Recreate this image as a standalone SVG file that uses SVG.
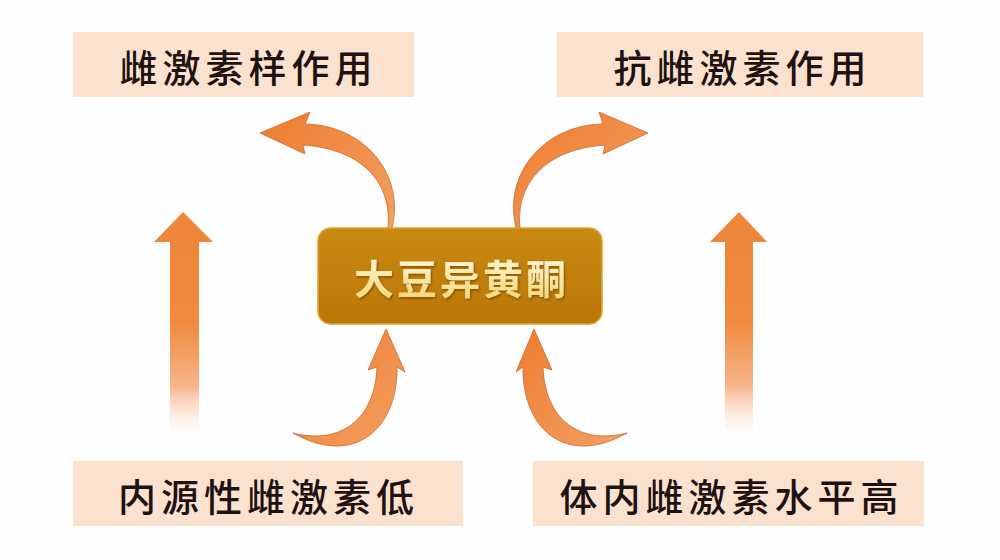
<svg xmlns="http://www.w3.org/2000/svg" width="1000" height="560" viewBox="0 0 1000 560">
  <defs>
    <style>
      .box { fill: #fbe2cf; }
      .label { font-family: "Noto Sans CJK SC", "Noto Sans", sans-serif; font-size: 38px; font-weight: 500; fill: #1f1212; letter-spacing: 5px; text-anchor: middle; dominant-baseline: central; }
      .center-label { font-family: "Noto Sans CJK SC", "Noto Sans", sans-serif; font-size: 40px; font-weight: 700; letter-spacing: 3px; text-anchor: middle; dominant-baseline: central; fill: url(#gText); }
      .curve { fill: url(#gCurve); stroke: #c9672c; stroke-width: 0.8; stroke-linejoin: round; }
      .straight { fill: url(#gStraight); }
    </style>
    <linearGradient id="gCenter" x1="0" y1="0" x2="0" y2="1">
      <stop offset="0" stop-color="#c98a12"/>
      <stop offset="1" stop-color="#ba7608"/>
    </linearGradient>
    <linearGradient id="gText" x1="0" y1="0" x2="0" y2="1">
      <stop offset="0" stop-color="#fffbe6"/>
      <stop offset="1" stop-color="#f6d46a"/>
    </linearGradient>
    <linearGradient id="gStraight" x1="0" y1="0" x2="0" y2="1">
      <stop offset="0" stop-color="#ee8538"/>
      <stop offset="0.5" stop-color="#f08a3e"/>
      <stop offset="0.8" stop-color="#f6b58a"/>
      <stop offset="1" stop-color="#fdf0e6" stop-opacity="0.3"/>
    </linearGradient>
    <linearGradient id="gCurve" x1="0" y1="0" x2="1" y2="1">
      <stop offset="0" stop-color="#ee7c30"/>
      <stop offset="1" stop-color="#f4a062"/>
    </linearGradient>
    <filter id="shadow" x="-10%" y="-20%" width="120%" height="140%">
      <feDropShadow dx="1" dy="1.5" stdDeviation="0.8" flood-color="#6a3c00" flood-opacity="0.7"/>
    </filter>
  </defs>

  <rect x="0" y="0" width="1000" height="560" fill="#fefefe"/>

  <g id="connectors">
    <path class="straight" d="M 170 430 L 170 242 L 154 242 L 183 212 L 213 242 L 199 242 L 199 430 Z"/>
    <path class="straight" d="M 725 430 L 725 242 L 710 242 L 739 212 L 767 242 L 753 242 L 753 430 Z"/>
    <path class="curve" d="M 388 228 C 392 190, 370 150, 303 145 L 305 154 L 260 133 L 310 112 L 305 124 C 365 125, 405 175, 392 228 Z"/>
    <path class="curve" d="M 520 228 C 516 190, 538 150, 605 145 L 603 154 L 648 133 L 599 112 L 603 124 C 543 125, 503 175, 516 228 Z"/>
    <path class="curve" d="M 293 433 C 340 445, 375 420, 377 367 L 368 370 L 386 329 L 405 372 L 397 367 C 398 428, 355 468, 293 433 Z"/>
    <path class="curve" d="M 627 433 C 580 445, 545 420, 543 367 L 552 370 L 534 329 L 516 372 L 523 367 C 522 428, 565 468, 627 433 Z"/>
  </g>

  <g id="node-estrogen-like">
    <rect class="box" x="73" y="32" width="341" height="65"/>
    <text class="label" x="248.5" y="65">雌激素样作用</text>
  </g>

  <g id="node-anti-estrogen">
    <rect class="box" x="557" y="32" width="366" height="65"/>
    <text class="label" x="742.5" y="65">抗雌激素作用</text>
  </g>

  <g id="node-soy-isoflavone">
    <rect x="318" y="228" width="284" height="96" rx="13" ry="13" fill="url(#gCenter)" stroke="#dca52e" stroke-width="1.5"/>
    <text class="center-label" x="461.5" y="277" filter="url(#shadow)">大豆异黄酮</text>
  </g>

  <g id="node-low-endogenous">
    <rect class="box" x="73" y="461" width="390" height="65"/>
    <text class="label" x="268.5" y="494">内源性雌激素低</text>
  </g>

  <g id="node-high-level">
    <rect class="box" x="533" y="461" width="391" height="65"/>
    <text class="label" x="731.5" y="494">体内雌激素水平高</text>
  </g>
</svg>
